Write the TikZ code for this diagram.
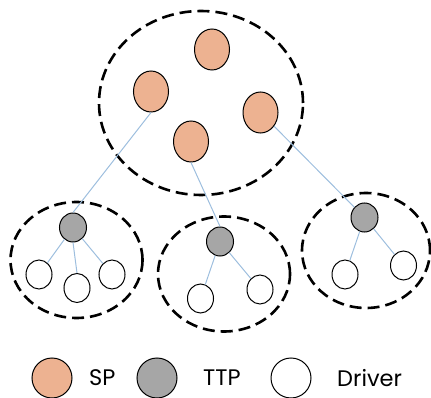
\documentclass[tikz,border=0pt]{standalone}
\usepackage{fontspec}
\newfontfamily\lgfont{Poppins}
\usetikzlibrary{shapes.geometric}
\definecolor{spfill}{RGB}{237,178,145}
\definecolor{ttpfill}{RGB}{166,166,166}
\definecolor{linkc}{RGB}{157,190,222}
\tikzset{
  group/.style={draw=black, line width=2.6pt, dash pattern=on 12pt off 6pt, ellipse, inner sep=0pt},
  spnode/.style={draw=black, line width=1pt, fill=spfill, ellipse, minimum width=35pt, minimum height=41pt, inner sep=0pt},
  ttpnode/.style={draw=black, line width=1pt, fill=ttpfill, ellipse, minimum width=27pt, minimum height=29pt, inner sep=0pt},
  drvnode/.style={draw=black, line width=1pt, fill=white, ellipse, minimum width=26pt, minimum height=29pt, inner sep=0pt},
  link/.style={draw=linkc, line width=1pt},
  legcirc/.style={draw=black, line width=1pt, circle, minimum size=40pt, inner sep=0pt},
  legtext/.style={font=\lgfont\fontsize{22.5pt}{26pt}\selectfont, inner sep=0pt}
}
\begin{document}
\begin{tikzpicture}[x=1pt,y=-1pt]
\useasboundingbox (0,0) rectangle (431,398);
% group ellipses
\node[group, minimum width=204pt, minimum height=184pt] (gtop) at (201,103) {};
\node[group, minimum width=132pt, minimum height=116pt] (gl) at (76.5,260) {};
\node[group, minimum width=132pt, minimum height=115pt] (gm) at (224,274) {};
\node[group, minimum width=128pt, minimum height=115pt] (gr) at (366,250.5) {};
% SP nodes
\node[spnode] (sp1) at (212,49.5) {};
\node[spnode] (sp2) at (151,91.5) {};
\node[spnode] (sp3) at (260.5,112.5) {};
\node[spnode] (sp4) at (191,141.5) {};
% TTP nodes
\node[ttpnode] (t1) at (73,227.5) {};
\node[ttpnode] (t2) at (220,241.5) {};
\node[ttpnode] (t3) at (364.5,217.5) {};
% drivers
\node[drvnode] (d1) at (39,274.5) {};
\node[drvnode] (d2) at (77,288) {};
\node[drvnode] (d3) at (112,274.5) {};
\node[drvnode] (d4) at (200.5,298.5) {};
\node[drvnode] (d5) at (260,289.5) {};
\node[drvnode] (d6) at (345,274.5) {};
\node[drvnode] (d7) at (403.5,265.5) {};
% links
\draw[link] (sp2.south) -- (t1.north);
\draw[link] (sp4.south) -- (t2.north);
\draw[link] (sp3) -- (t3);
\draw[link] (t1) -- (d1);
\draw[link] (t1.south) -- (d2.north);
\draw[link] (t1) -- (d3);
\draw[link] (t2) -- (d4);
\draw[link] (t2) -- (d5);
\draw[link] (t3) -- (d6);
\draw[link] (t3) -- (d7);
% legend
\node[legcirc, fill=spfill] (lsp) at (52,378) {};
\node[legtext, anchor=west] (lspt) at (89,378) {SP};
\node[legcirc, fill=ttpfill] (lttp) at (157,378) {};
\node[legtext, anchor=west] (lttpt) at (203,378) {TTP};
\node[legcirc, fill=white] (ldrv) at (291,378) {};
\node[legtext, anchor=west] (ldrvt) at (337,378) {Driver};
\end{tikzpicture}
\end{document}
